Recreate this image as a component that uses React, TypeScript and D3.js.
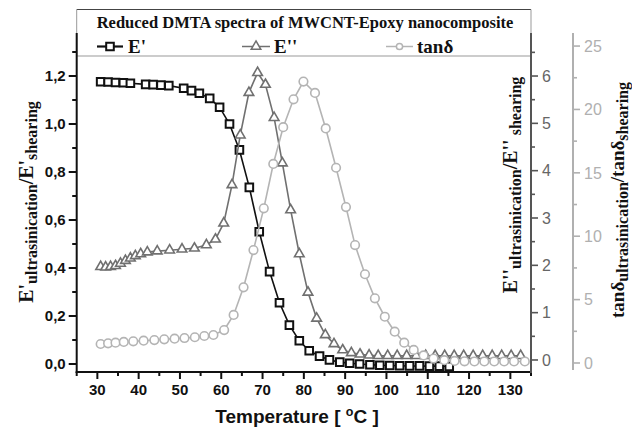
import React from "react";
import * as d3 from "d3";

const ePrimeTemp = [30.8, 32.6, 34.4, 36.3, 38.0, 41.7, 43.5, 45.4, 47.3, 50.9, 52.8, 54.7, 57.2, 59.6, 62.0, 64.4, 66.8, 69.2, 71.7, 74.1, 76.5, 78.9, 81.3, 83.8, 86.2, 88.7, 91.1, 93.5, 96.0, 98.4, 100.8, 103.2, 105.6, 108.0, 110.4, 112.8, 115.2];
const ePrimeVal = [1.176, 1.175, 1.173, 1.172, 1.17, 1.165, 1.164, 1.162, 1.16, 1.149, 1.139, 1.128, 1.107, 1.07, 1.0, 0.892, 0.736, 0.551, 0.385, 0.255, 0.162, 0.097, 0.055, 0.033, 0.017, 0.008, 0.003, 0.0, -0.003, -0.005, -0.006, -0.007, -0.008, -0.008, -0.009, -0.009, -0.01];

const eDoubleTemp = [30.8, 32.0, 33.2, 34.4, 35.6, 36.8, 38.0, 39.2, 40.5, 42.1, 44.5, 47.5, 50.5, 53.5, 56.4, 58.6, 60.6, 62.6, 64.6, 66.7, 68.8, 70.7, 72.8, 74.8, 76.8, 78.9, 81.0, 83.1, 85.2, 87.3, 89.4, 91.5, 93.6, 95.8, 98.0, 100.3, 102.6, 104.9, 107.2, 109.5, 111.8, 114.1, 116.4, 118.7, 121.0, 123.3, 125.6, 127.9, 130.2, 132.5];
const eDoubleVal = [1.97, 1.96, 1.97, 1.99, 2.04, 2.1, 2.15, 2.2, 2.24, 2.28, 2.3, 2.32, 2.34, 2.36, 2.43, 2.55, 2.89, 3.7, 4.75, 5.65, 6.07, 5.82, 5.12, 4.16, 3.17, 2.24, 1.43, 0.88, 0.53, 0.34, 0.21, 0.15, 0.12, 0.1, 0.09, 0.09, 0.09, 0.09, 0.09, 0.09, 0.09, 0.09, 0.09, 0.09, 0.09, 0.09, 0.09, 0.09, 0.09, 0.09];

const tanTemp = [30.8, 32.6, 34.4, 36.4, 38.7, 41.2, 43.8, 46.2, 48.7, 51.1, 53.6, 55.9, 58.1, 60.7, 63.0, 65.4, 67.8, 70.3, 72.6, 75.0, 77.5, 79.9, 82.7, 85.3, 87.8, 90.2, 92.4, 94.8, 97.2, 99.6, 102.0, 104.3, 106.6, 109.0, 111.4, 114.0, 116.5, 118.9, 121.3, 123.7, 126.1, 128.5, 130.9, 133.5];
const tanVal = [1.5, 1.55, 1.6, 1.66, 1.71, 1.76, 1.81, 1.87, 1.92, 1.97, 2.03, 2.13, 2.21, 2.6, 3.79, 5.97, 8.91, 12.2, 15.7, 18.6, 20.8, 22.2, 21.3, 18.5, 15.4, 12.3, 9.3, 7.0, 5.1, 3.65, 2.47, 1.6, 1.03, 0.6, 0.35, 0.22, 0.16, 0.13, 0.12, 0.12, 0.12, 0.12, 0.12, 0.12];

const xTicks = [30, 40, 50, 60, 70, 80, 90, 100, 110, 120, 130];
const xMinor = [25, 35, 45, 55, 65, 75, 85, 95, 105, 115, 125, 135];
const leftTicks = [0, 0.2, 0.4, 0.6, 0.8, 1.0, 1.2];
const leftMinor = [0.1, 0.3, 0.5, 0.7, 0.9, 1.1, 1.3];
const rightTicks = [0, 1, 2, 3, 4, 5, 6];
const rightMinor = [0.5, 1.5, 2.5, 3.5, 4.5, 5.5, 6.5];
const tanTicks = [0, 5, 10, 15, 20, 25];
const tanMinor = [2.5, 7.5, 12.5, 17.5, 22.5];

const C_E1 = "#111111";
const C_E2 = "#707070";
const C_TAN = "#b4b4b4";
const SANS = "'Liberation Sans', Arial, sans-serif";
const SERIF = "'Liberation Serif', 'Times New Roman', serif";

export default function App() {
  const L = 76.7, R = 531, TOP = 33, B = 372;
  const TANX = 573;
  const x = d3.scaleLinear().domain([25, 135]).range([L, R]);
  const yL = d3.scaleLinear().domain([-0.0333, 1.3792]).range([B, TOP]);
  const yR = d3.scaleLinear().domain([-0.254, 6.909]).range([B, TOP]);
  const yT = d3.scaleLinear().domain([-0.71, 26.03]).range([B, TOP]);

  const mkLine = (ts: number[], vs: number[], ys: d3.ScaleLinear<number, number>) =>
    d3.line<number>().x((_, i) => x(ts[i])).y((d) => ys(d))(vs) || "";

  const sq = d3.symbol(d3.symbolSquare, 58)() || "";
  const tri = d3.symbol(d3.symbolTriangle, 40)() || "";
  const circ = d3.symbol(d3.symbolCircle, 58)() || "";

  const fmtL = (v: number) => v.toFixed(1).replace(".", ",");

  return (
    <div style={{ position: "absolute", left: 0, top: 0 }}>
      <svg width={632} height={427} style={{ display: "block", background: "#fff" }}>
        {/* legend box */}
        <line x1={L} x2={R} y1={9.5} y2={9.5} stroke="#444" strokeWidth={1.2} />
        <line x1={L} x2={L} y1={9.5} y2={56} stroke="#999" strokeWidth={1} />
        <line x1={R} x2={R} y1={9.5} y2={56} stroke="#999" strokeWidth={1} />
        <line x1={L} x2={R} y1={56} y2={56} stroke="#999" strokeWidth={1.2} />
        <text x={305} y={28} textAnchor="middle" fontFamily={SERIF} fontWeight="bold" fontSize={16.5} fill="#111">
          Reduced DMTA spectra of MWCNT-Epoxy nanocomposite
        </text>
        {/* legend entries */}
        <g>
          <line x1={97} x2={123} y1={46.5} y2={46.5} stroke={C_E1} strokeWidth={2.2} />
          <path d={sq} transform={`translate(110,46.5)`} fill="#fff" stroke={C_E1} strokeWidth={2} />
          <text x={128} y={53} fontFamily={SERIF} fontWeight="bold" fontSize={19} fill="#111">E'</text>
          <line x1={242} x2={270} y1={46.5} y2={46.5} stroke={C_E2} strokeWidth={1.5} />
          <path d={tri} transform={`translate(256,46.5)`} fill="#fff" stroke={C_E2} strokeWidth={1.5} />
          <text x={274} y={53} fontFamily={SERIF} fontWeight="bold" fontSize={19} fill="#111">E''</text>
          <line x1={386} x2={413} y1={46.5} y2={46.5} stroke={C_TAN} strokeWidth={1.5} />
          <path d={d3.symbol(d3.symbolCircle, 30)() || ""} transform={`translate(399.5,46.5)`} fill="#fff" stroke={C_TAN} strokeWidth={1.5} />
          <text x={417} y={53} fontFamily={SERIF} fontWeight="bold" fontSize={19} fill="#111">tanδ</text>
        </g>

        {/* series: E' */}
        <path d={mkLine(ePrimeTemp, ePrimeVal, yL)} fill="none" stroke={C_E1} strokeWidth={1.6} />
        {ePrimeVal.map((v, i) => (
          <path key={"s" + i} d={sq} transform={`translate(${x(ePrimeTemp[i])},${yL(v)})`} fill="#fff" stroke={C_E1} strokeWidth={2} />
        ))}
        {/* E'' */}
        <path d={mkLine(eDoubleTemp, eDoubleVal, yR)} fill="none" stroke={C_E2} strokeWidth={1.6} />
        {eDoubleVal.map((v, i) => (
          <path key={"t" + i} d={tri} transform={`translate(${x(eDoubleTemp[i])},${yR(v)})`} fill="#fff" stroke={C_E2} strokeWidth={1.6} />
        ))}
        {/* tan delta */}
        <path d={mkLine(tanTemp, tanVal, yT)} fill="none" stroke={C_TAN} strokeWidth={1.6} />
        {tanVal.map((v, i) => (
          <path key={"c" + i} d={circ} transform={`translate(${x(tanTemp[i])},${yT(v)})`} fill="#fff" stroke={C_TAN} strokeWidth={1.6} />
        ))}

        {/* left axis */}
        <line x1={L} x2={L} y1={TOP} y2={B + 1} stroke="#111" strokeWidth={2} />
        {leftTicks.map((t) => (
          <g key={"lt" + t}>
            <line x1={L - 8} x2={L} y1={yL(t)} y2={yL(t)} stroke="#111" strokeWidth={2} />
            <text x={L - 11} y={yL(t)} dy="0.36em" textAnchor="end" fontFamily={SANS} fontWeight="bold" fontSize={15} fill="#111">{fmtL(t)}</text>
          </g>
        ))}
        {leftMinor.map((t) => (
          <line key={"lm" + t} x1={L - 4.5} x2={L} y1={yL(t)} y2={yL(t)} stroke="#111" strokeWidth={2} />
        ))}

        {/* bottom axis */}
        <line x1={L - 1} x2={R + 1} y1={B} y2={B} stroke="#111" strokeWidth={2} />
        {xTicks.map((t) => (
          <g key={"xt" + t}>
            <line x1={x(t)} x2={x(t)} y1={B} y2={B + 7} stroke="#111" strokeWidth={2} />
            <text x={x(t)} y={395} textAnchor="middle" fontFamily={SANS} fontWeight="bold" fontSize={15} fill="#111">{t}</text>
          </g>
        ))}
        {xMinor.map((t) => (
          <line key={"xm" + t} x1={x(t)} x2={x(t)} y1={B} y2={B + 4} stroke="#111" strokeWidth={2} />
        ))}
        <text x={297} y={423} textAnchor="middle" fontFamily={SANS} fontWeight="bold" fontSize={19} fill="#111">
          Temperature [ <tspan fontSize={12.5} dy={-7.5}>o</tspan><tspan dy={7.5}>C ]</tspan>
        </text>

        {/* right E'' axis */}
        <line x1={R} x2={R} y1={TOP} y2={B + 1} stroke="#555" strokeWidth={2} />
        {rightTicks.map((t) => (
          <g key={"rt" + t}>
            <line x1={R} x2={R + 7} y1={yR(t)} y2={yR(t)} stroke="#555" strokeWidth={1.6} />
            <text x={R + 11} y={yR(t)} dy="0.36em" textAnchor="start" fontFamily={SANS} fontSize={16} fill="#666">{t}</text>
          </g>
        ))}
        {rightMinor.map((t) => (
          <line key={"rm" + t} x1={R} x2={R + 4} y1={yR(t)} y2={yR(t)} stroke="#555" strokeWidth={1.6} />
        ))}

        {/* tan axis */}
        <line x1={TANX} x2={TANX} y1={TOP} y2={B - 2} stroke="#b0b0b0" strokeWidth={2} />
        {tanTicks.map((t) => (
          <g key={"tt" + t}>
            <line x1={TANX} x2={TANX + 7} y1={yT(t)} y2={yT(t)} stroke="#b0b0b0" strokeWidth={1.6} />
            <text x={TANX + 11} y={yT(t)} dy="0.36em" textAnchor="start" fontFamily={SANS} fontSize={16} fill="#b0b0b0">{t}</text>
          </g>
        ))}
        {tanMinor.map((t) => (
          <line key={"tm" + t} x1={TANX} x2={TANX + 4} y1={yT(t)} y2={yT(t)} stroke="#b0b0b0" strokeWidth={1.6} />
        ))}

        {/* axis titles */}
        <text transform="translate(33,202) rotate(-90)" textAnchor="middle" fontFamily={SERIF} fontWeight="bold" fontSize={20} fill="#111">
          E'<tspan fontSize={16} dy={4}>ultrasinication</tspan><tspan dy={-4}>/E'</tspan><tspan fontSize={16} dy={4}>shearing</tspan>
        </text>
        <text transform="translate(517,185) rotate(-90)" textAnchor="middle" fontFamily={SERIF} fontWeight="bold" fontSize={20} fill="#111">
          E''<tspan fontSize={16} dy={4}>ultrasinication</tspan><tspan dy={-4}>/E''</tspan><tspan fontSize={16} dy={4}> shearing</tspan>
        </text>
        <text transform="translate(624,200) rotate(-90)" textAnchor="middle" fontFamily={SERIF} fontWeight="bold" fontSize={19} fill="#111">
          tanδ<tspan fontSize={16} dy={4}>ultrasinication</tspan><tspan dy={-4}>/tanδ</tspan><tspan fontSize={16} dy={4}>shearing</tspan>
        </text>
      </svg>
    </div>
  );
}
